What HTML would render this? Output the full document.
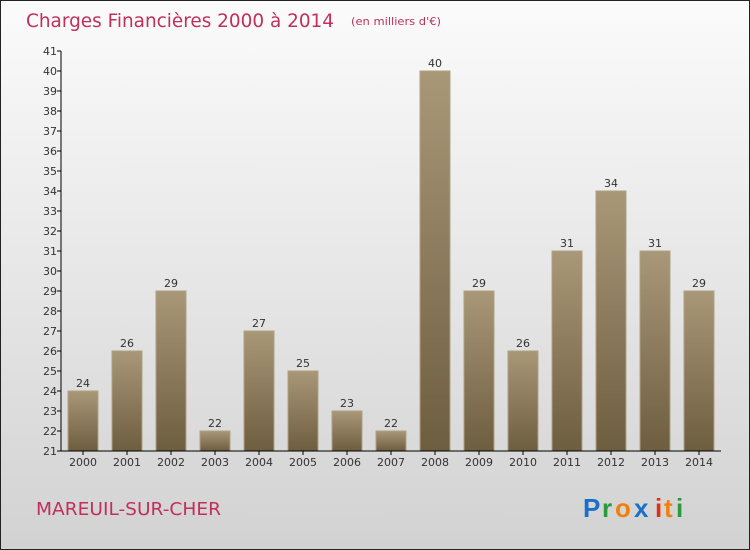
<!DOCTYPE html>
<html><head><meta charset="utf-8"><style>
body{margin:0}
#c{width:748px;height:548px;border:1px solid #222;background:linear-gradient(#fbfbfb,#d2d2d2);position:relative;overflow:hidden;font-family:"DejaVu Sans","Liberation Sans",sans-serif}
</style></head><body>
<div id="c">
<svg width="748" height="548">
<defs><linearGradient id="g" x1="0" y1="0" x2="0" y2="1"><stop offset="0" stop-color="#a89878"/><stop offset="1" stop-color="#6e5e40"/></linearGradient></defs>
<text x="25" y="26" font-size="19" fill="#c0305c" textLength="308" lengthAdjust="spacingAndGlyphs">Charges Financières 2000 à 2014</text>
<text x="350" y="24" font-size="11" fill="#c0305c" textLength="90" lengthAdjust="spacingAndGlyphs">(en milliers d'€)</text>
<text x="35" y="514" font-size="18" fill="#c0305c" textLength="185" lengthAdjust="spacingAndGlyphs">MAREUIL-SUR-CHER</text>
<g font-size="26" font-family="Liberation Sans,sans-serif" font-weight="bold">
<text x="582" y="516" fill="#1a70c8">P</text><text x="601" y="516" fill="#2a9a3a">r</text><text x="614" y="516" fill="#f08010">o</text><text x="633" y="516" fill="#1a70c8">x</text><text x="654" y="516" fill="#e03010">i</text><text x="663" y="516" fill="#f08010">t</text><text x="675" y="516" fill="#2a9a3a">i</text></g>
<g id="plot"></g>
</svg></div>
<script>
const categories=["2000","2001","2002","2003","2004","2005","2006","2007","2008","2009","2010","2011","2012","2013","2014"];
const values=[24,26,29,22,27,25,23,22,40,29,26,31,34,31,29];
const yTicks=[21,22,23,24,25,26,27,28,29,30,31,32,33,34,35,36,37,38,39,40,41];
const yMin=21,yMax=41,plotTop=50,plotBot=450,x0=60;
const y=v=>plotBot-(v-yMin)/(yMax-yMin)*(plotBot-plotTop);
const xc=i=>82+i*44;
const ns="http://www.w3.org/2000/svg",p=document.getElementById('plot');
function mk(t,a,txt){const e=document.createElementNS(ns,t);for(const k in a)e.setAttribute(k,a[k]);if(txt!=null)e.textContent=txt;p.appendChild(e);return e;}
values.forEach((v,i)=>{
const r=mk('rect',{x:xc(i)-15,y:y(v),width:30,height:plotBot-y(v),fill:'url(#g)',stroke:'#b0a080','stroke-width':1});


const t=mk('text',{x:xc(i),y:y(v)-4,'text-anchor':'middle','font-size':11,fill:'#333'},v);


const xl=mk('text',{x:xc(i),y:plotBot+15,'text-anchor':'middle','font-size':11,fill:'#333'},categories[i]);


mk('line',{x1:xc(i),x2:xc(i),y1:plotBot,y2:plotBot+4,stroke:'#000'});
});
yTicks.forEach(t=>{
mk('line',{x1:x0-4,x2:x0,y1:y(t),y2:y(t),stroke:'#000'});
const l=mk('text',{x:x0-4,y:y(t)+4,'text-anchor':'end','font-size':11,fill:'#333'},t);


});
const ya=mk('line',{x1:x0,x2:x0,y1:plotTop,y2:plotBot,stroke:'#000'});


const xa=mk('line',{x1:x0,x2:720,y1:plotBot,y2:plotBot,stroke:'#000'});


</script>
</body></html>
